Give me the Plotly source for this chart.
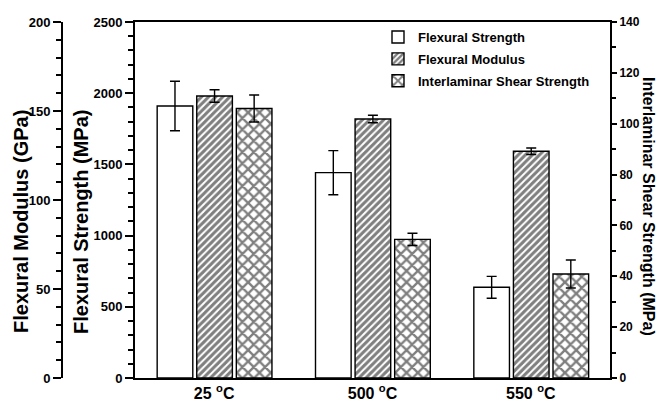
import plotly.graph_objects as go

categories = ["25 <sup>o</sup>C", "500 <sup>o</sup>C", "550 <sup>o</sup>C"]
flex_strength = [1910, 1442, 637]          # MPa
flex_strength_err = [174, 155, 77]
flex_modulus = [158.4, 145.5, 127.4]       # GPa
flex_modulus_err = [3.5, 2.1, 1.8]
ilss = [106.0, 54.5, 40.9]                 # MPa
ilss_err = [5.3, 2.4, 5.5]

W, H = 661, 403
x0, x1 = 135, 610
yt, yb = 22, 378
xs = [0, 1, 2]

font_b = dict(family="Liberation Sans, Arial, sans-serif", size=13, color="black", weight="bold")

fig = go.Figure()
bw = 0.225
common_err = dict(type="data", color="black", thickness=1.4, width=5)

fig.add_trace(go.Bar(
    x=xs, y=flex_strength, name="Flexural Strength", yaxis="y", legendgroup="a",
    width=bw, offset=-0.36,
    marker=dict(color="white", line=dict(color="black", width=1.4)),
    error_y=dict(array=flex_strength_err, **common_err),
))
fig.add_trace(go.Bar(
    x=xs, y=flex_modulus, name="Flexural Modulus", yaxis="y2", legendgroup="b",
    width=bw, offset=-0.11,
    marker=dict(color="white", line=dict(color="black", width=1.4),
                pattern=dict(shape="/", size=5, solidity=0.6, fgcolor="black", bgcolor="white")),
    error_y=dict(array=flex_modulus_err, **common_err),
))
fig.add_trace(go.Bar(
    x=xs, y=ilss, name="Interlaminar Shear Strength", yaxis="y3", legendgroup="c",
    width=bw, offset=0.14,
    marker=dict(color="white", line=dict(color="black", width=1.4),
                pattern=dict(shape="x", size=8, solidity=0.5, fgcolor="black", bgcolor="white")),
    error_y=dict(array=ilss_err, **common_err),
))

axis_common = dict(showline=True, linecolor="black", linewidth=2, showgrid=False, zeroline=False,
                   ticks="outside", ticklen=8, tickwidth=2, tickcolor="black", tickfont=font_b)
minor_common = dict(ticks="outside", ticklen=5, tickwidth=1.6, tickcolor="black")

def ytitle(text, x, size=20, angle=-90):
    return dict(text=text, textangle=angle, xref="paper", yref="paper",
                x=x / W, y=(yb - 222) / (yb - yt), xanchor="center", yanchor="middle",
                showarrow=False, font=dict(font_b, size=size))

fig.update_layout(
    width=W, height=H,
    margin=dict(l=0, r=0, t=yt, b=H - yb),
    plot_bgcolor="white", paper_bgcolor="white",
    showlegend=True,
    barmode="overlay",
    xaxis=dict(domain=[x0 / W, x1 / W], range=[-0.5, 2.5], tickvals=xs, ticktext=categories,
               showline=True, linecolor="black", linewidth=2, mirror=True, showgrid=False,
               zeroline=False, ticks="", tickfont=dict(font_b, size=16)),
    yaxis=dict(range=[0, 2500], dtick=500, anchor="x", side="left",
               minor=dict(dtick=100, **minor_common),
               **axis_common),
    yaxis2=dict(range=[0, 200], dtick=50, overlaying="y", anchor="free", position=62 / W, side="left",
                minor=dict(dtick=10, **minor_common),
                **axis_common),
    yaxis3=dict(range=[0, 140], dtick=20, overlaying="y", anchor="x", side="right",
                showline=True, linecolor="black", linewidth=2, showgrid=False, zeroline=False,
                ticks="outside", ticklen=5, tickwidth=2, tickcolor="black",
                tickfont=dict(font_b, size=12),
                minor=dict(dtick=10, ticks="outside", ticklen=4, tickwidth=1.6, tickcolor="black")),
    legend=dict(x=378 / W, y=1.0, xanchor="left", yanchor="top",
                font=dict(font_b, size=13), bgcolor="rgba(0,0,0,0)", tracegroupgap=2, itemwidth=30),
    annotations=[
        ytitle("Flexural Modulus (GPa)", 21),
        ytitle("Flexural Strength (MPa)", 81),
        dict(text="Interlaminar Shear Strength (MPa)", textangle=90, xref="paper", yref="paper",
             x=648 / W, y=(yb - 206) / (yb - yt), xanchor="center", yanchor="middle", showarrow=False,
             font=dict(font_b, size=16)),
    ],
)

fig.write_html("out.html")
